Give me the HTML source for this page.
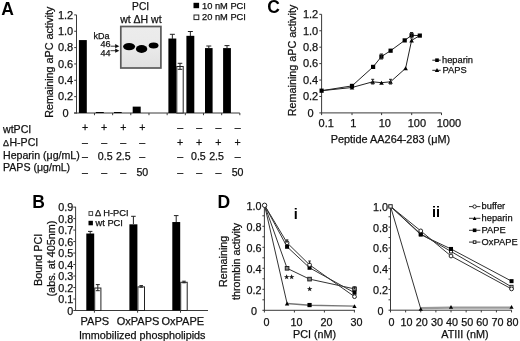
<!DOCTYPE html>
<html><head><meta charset="utf-8"><style>
html,body{margin:0;padding:0;background:#fff;}
svg{display:block;font-family:"Liberation Sans", sans-serif;filter:blur(0.5px);}
</style></head><body>
<svg width="520" height="341" viewBox="0 0 520 341">
<rect width="520" height="341" fill="#fff"/>
<text x="1.2" y="14.8" font-size="17.5" font-weight="bold" fill="#000">A</text>
<line x1="76.5" y1="14.9" x2="76.5" y2="113.5" stroke="#3a3a3a" stroke-width="1"/>
<line x1="74.2" y1="113.0" x2="76.5" y2="113.0" stroke="#3a3a3a" stroke-width="1"/>
<text x="65.6" y="116.8" font-size="11" text-anchor="middle" fill="#111" stroke="#111" stroke-width="0.25">0</text>
<line x1="74.2" y1="96.65" x2="76.5" y2="96.65" stroke="#3a3a3a" stroke-width="1"/>
<text x="65.6" y="100.45" font-size="11" text-anchor="middle" fill="#111" stroke="#111" stroke-width="0.25">0.2</text>
<line x1="74.2" y1="80.3" x2="76.5" y2="80.3" stroke="#3a3a3a" stroke-width="1"/>
<text x="65.6" y="84.1" font-size="11" text-anchor="middle" fill="#111" stroke="#111" stroke-width="0.25">0.4</text>
<line x1="74.2" y1="63.949999999999996" x2="76.5" y2="63.949999999999996" stroke="#3a3a3a" stroke-width="1"/>
<text x="65.6" y="67.75" font-size="11" text-anchor="middle" fill="#111" stroke="#111" stroke-width="0.25">0.6</text>
<line x1="74.2" y1="47.599999999999994" x2="76.5" y2="47.599999999999994" stroke="#3a3a3a" stroke-width="1"/>
<text x="65.6" y="51.39999999999999" font-size="11" text-anchor="middle" fill="#111" stroke="#111" stroke-width="0.25">0.8</text>
<line x1="74.2" y1="31.25" x2="76.5" y2="31.25" stroke="#3a3a3a" stroke-width="1"/>
<text x="65.6" y="35.05" font-size="11" text-anchor="middle" fill="#111" stroke="#111" stroke-width="0.25">1.0</text>
<line x1="74.2" y1="14.899999999999991" x2="76.5" y2="14.899999999999991" stroke="#3a3a3a" stroke-width="1"/>
<text x="65.6" y="18.699999999999992" font-size="11" text-anchor="middle" fill="#111" stroke="#111" stroke-width="0.25">1.2</text>
<line x1="74.0" y1="113.0" x2="239.8" y2="113.0" stroke="#3a3a3a" stroke-width="1"/>
<line x1="94.47" y1="113.0" x2="94.47" y2="115.2" stroke="#3a3a3a" stroke-width="1"/>
<line x1="112.64" y1="113.0" x2="112.64" y2="115.2" stroke="#3a3a3a" stroke-width="1"/>
<line x1="130.81" y1="113.0" x2="130.81" y2="115.2" stroke="#3a3a3a" stroke-width="1"/>
<line x1="148.98000000000002" y1="113.0" x2="148.98000000000002" y2="115.2" stroke="#3a3a3a" stroke-width="1"/>
<line x1="167.15" y1="113.0" x2="167.15" y2="115.2" stroke="#3a3a3a" stroke-width="1"/>
<line x1="185.32" y1="113.0" x2="185.32" y2="115.2" stroke="#3a3a3a" stroke-width="1"/>
<line x1="203.49" y1="113.0" x2="203.49" y2="115.2" stroke="#3a3a3a" stroke-width="1"/>
<line x1="221.66000000000003" y1="113.0" x2="221.66000000000003" y2="115.2" stroke="#3a3a3a" stroke-width="1"/>
<line x1="239.83000000000004" y1="113.0" x2="239.83000000000004" y2="115.2" stroke="#3a3a3a" stroke-width="1"/>
<text x="53.2" y="62.3" font-size="10.75" text-anchor="middle" transform="rotate(-90 53.2 62.3)" fill="#111" stroke="#111" stroke-width="0.25">Remaining aPC activity</text>
<rect x="78.9" y="40.07899999999999" width="7.8999999999999915" height="72.921" fill="#000"/>
<rect x="95.8" y="112.019" width="8.0" height="0.9809999999999945" fill="#000"/>
<rect x="114.0" y="112.019" width="7.700000000000003" height="0.9809999999999945" fill="#000"/>
<rect x="132.7" y="106.6235" width="8.0" height="6.376499999999993" fill="#000"/>
<rect x="168.4" y="38.52575" width="7.900000000000006" height="74.47425" fill="#000"/>
<rect x="176.8" y="66.49375" width="6.399999999999977" height="46.506249999999994" fill="#fff" stroke="#222" stroke-width="1"/>
<rect x="186.4" y="35.828" width="7.900000000000006" height="77.172" fill="#000"/>
<rect x="205.0" y="48.09049999999999" width="7.599999999999994" height="64.90950000000001" fill="#000"/>
<rect x="223.1" y="48.09049999999999" width="7.800000000000011" height="64.90950000000001" fill="#000"/>
<line x1="172.35" y1="34.3" x2="172.35" y2="39" stroke="#222" stroke-width="1"/>
<line x1="169.85" y1="34.3" x2="174.85" y2="34.3" stroke="#222" stroke-width="1"/>
<line x1="180.0" y1="63.3" x2="180.0" y2="69.3" stroke="#222" stroke-width="1"/>
<line x1="177.7" y1="63.3" x2="182.3" y2="63.3" stroke="#222" stroke-width="1"/>
<line x1="177.7" y1="69.3" x2="182.3" y2="69.3" stroke="#222" stroke-width="1"/>
<line x1="190.35" y1="31.5" x2="190.35" y2="36" stroke="#222" stroke-width="1"/>
<line x1="187.85" y1="31.5" x2="192.85" y2="31.5" stroke="#222" stroke-width="1"/>
<line x1="208.8" y1="46.0" x2="208.8" y2="48.5" stroke="#222" stroke-width="1"/>
<line x1="206.3" y1="46.0" x2="211.3" y2="46.0" stroke="#222" stroke-width="1"/>
<line x1="227.0" y1="45.6" x2="227.0" y2="48.5" stroke="#222" stroke-width="1"/>
<line x1="224.5" y1="45.6" x2="229.5" y2="45.6" stroke="#222" stroke-width="1"/>
<rect x="193.5" y="2.8" width="5.6" height="5.4" fill="#000"/>
<text x="202.0" y="8.8" font-size="9.3" fill="#111" stroke="#111" stroke-width="0.25">10 nM PCI</text>
<rect x="194.0" y="15.0" width="4.8" height="4.6" fill="#fff" stroke="#222" stroke-width="1"/>
<text x="202.0" y="20.4" font-size="9.3" fill="#111" stroke="#111" stroke-width="0.25">20 nM PCI</text>
<text x="140.6" y="9.9" font-size="10.2" text-anchor="middle" fill="#111" stroke="#111" stroke-width="0.25">PCI</text>
<text x="140.9" y="23.2" font-size="10.5" text-anchor="middle" fill="#111" stroke="#111" stroke-width="0.25">wt ΔH wt</text>
<defs><linearGradient id="gel" x1="0" y1="0" x2="0" y2="1"><stop offset="0" stop-color="#ececec"/><stop offset="0.5" stop-color="#eaeaea"/><stop offset="1" stop-color="#e0e0e0"/></linearGradient><filter id="bl" x="-30%" y="-50%" width="160%" height="200%"><feGaussianBlur stdDeviation="0.5"/></filter></defs>
<rect x="120.8" y="26.5" width="40.1" height="41.5" fill="url(#gel)" stroke="#5a5a5a" stroke-width="1.7"/>
<g filter="url(#bl)">
<ellipse cx="129.1" cy="46.6" rx="6.0" ry="3.6" fill="#000"/>
<ellipse cx="141.6" cy="49.0" rx="5.7" ry="3.9" fill="#000"/>
<ellipse cx="153.6" cy="45.5" rx="4.9" ry="3.0" fill="#000"/>
</g>
<text x="93.4" y="38.8" font-size="9.0" fill="#111" stroke="#111" stroke-width="0.25">kDa</text>
<text x="100.6" y="47.4" font-size="9.0" fill="#111" stroke="#111" stroke-width="0.25">46</text>
<text x="100.6" y="55.9" font-size="9.0" fill="#111" stroke="#111" stroke-width="0.25">44</text>
<line x1="110.5" y1="46.2" x2="116" y2="46.2" stroke="#222" stroke-width="0.9"/>
<path d="M115.2,44.1 L119.3,46.2 L115.2,48.3 Z" fill="#111" stroke="none" stroke-width="1"/>
<line x1="110.5" y1="50.7" x2="116" y2="50.7" stroke="#222" stroke-width="0.9"/>
<path d="M115.2,48.6 L119.3,50.7 L115.2,52.8 Z" fill="#111" stroke="none" stroke-width="1"/>
<text x="3.0" y="132.7" font-size="10.6" fill="#111" stroke="#111" stroke-width="0.25">wtPCI</text>
<text x="3.0" y="145.9" font-size="10.6" fill="#111" stroke="#111" stroke-width="0.25"><tspan font-size="9">Δ</tspan><tspan dx="0.4">H-PCI</tspan></text>
<text x="3.0" y="158.8" font-size="10.6" fill="#111" stroke="#111" stroke-width="0.25">Heparin (μg/mL)</text>
<text x="3.0" y="171.3" font-size="10.6" fill="#111" stroke="#111" stroke-width="0.25">PAPS (μg/mL)</text>
<text x="85.0" y="130.8" font-size="10.6" text-anchor="middle" fill="#111" stroke="#111" stroke-width="0.25">+</text>
<text x="104.2" y="130.8" font-size="10.6" text-anchor="middle" fill="#111" stroke="#111" stroke-width="0.25">+</text>
<text x="123.3" y="130.8" font-size="10.6" text-anchor="middle" fill="#111" stroke="#111" stroke-width="0.25">+</text>
<text x="142.3" y="130.8" font-size="10.6" text-anchor="middle" fill="#111" stroke="#111" stroke-width="0.25">+</text>
<text x="180.2" y="130.8" font-size="10.6" text-anchor="middle" fill="#111" stroke="#111" stroke-width="0.25">–</text>
<text x="199.2" y="130.8" font-size="10.6" text-anchor="middle" fill="#111" stroke="#111" stroke-width="0.25">–</text>
<text x="218.4" y="130.8" font-size="10.6" text-anchor="middle" fill="#111" stroke="#111" stroke-width="0.25">–</text>
<text x="237.6" y="130.8" font-size="10.6" text-anchor="middle" fill="#111" stroke="#111" stroke-width="0.25">–</text>
<text x="85.0" y="145.6" font-size="10.6" text-anchor="middle" fill="#111" stroke="#111" stroke-width="0.25">–</text>
<text x="104.2" y="145.6" font-size="10.6" text-anchor="middle" fill="#111" stroke="#111" stroke-width="0.25">–</text>
<text x="123.3" y="145.6" font-size="10.6" text-anchor="middle" fill="#111" stroke="#111" stroke-width="0.25">–</text>
<text x="142.3" y="145.6" font-size="10.6" text-anchor="middle" fill="#111" stroke="#111" stroke-width="0.25">–</text>
<text x="180.2" y="145.6" font-size="10.6" text-anchor="middle" fill="#111" stroke="#111" stroke-width="0.25">+</text>
<text x="199.2" y="145.6" font-size="10.6" text-anchor="middle" fill="#111" stroke="#111" stroke-width="0.25">+</text>
<text x="218.4" y="145.6" font-size="10.6" text-anchor="middle" fill="#111" stroke="#111" stroke-width="0.25">+</text>
<text x="237.6" y="145.6" font-size="10.6" text-anchor="middle" fill="#111" stroke="#111" stroke-width="0.25">+</text>
<text x="85.0" y="160.1" font-size="10.6" text-anchor="middle" fill="#111" stroke="#111" stroke-width="0.25">–</text>
<text x="105.2" y="160.1" font-size="10.6" text-anchor="middle" fill="#111" stroke="#111" stroke-width="0.25">0.5</text>
<text x="123.3" y="160.1" font-size="10.6" text-anchor="middle" fill="#111" stroke="#111" stroke-width="0.25">2.5</text>
<text x="142.3" y="160.1" font-size="10.6" text-anchor="middle" fill="#111" stroke="#111" stroke-width="0.25">–</text>
<text x="180.2" y="160.1" font-size="10.6" text-anchor="middle" fill="#111" stroke="#111" stroke-width="0.25">–</text>
<text x="198.39999999999998" y="160.1" font-size="10.6" text-anchor="middle" fill="#111" stroke="#111" stroke-width="0.25">0.5</text>
<text x="216.5" y="160.1" font-size="10.6" text-anchor="middle" fill="#111" stroke="#111" stroke-width="0.25">2.5</text>
<text x="237.6" y="160.1" font-size="10.6" text-anchor="middle" fill="#111" stroke="#111" stroke-width="0.25">–</text>
<text x="85.0" y="175.6" font-size="10.6" text-anchor="middle" fill="#111" stroke="#111" stroke-width="0.25">–</text>
<text x="104.2" y="175.6" font-size="10.6" text-anchor="middle" fill="#111" stroke="#111" stroke-width="0.25">–</text>
<text x="123.3" y="175.6" font-size="10.6" text-anchor="middle" fill="#111" stroke="#111" stroke-width="0.25">–</text>
<text x="142.3" y="175.6" font-size="10.6" text-anchor="middle" fill="#111" stroke="#111" stroke-width="0.25">50</text>
<text x="180.2" y="175.6" font-size="10.6" text-anchor="middle" fill="#111" stroke="#111" stroke-width="0.25">–</text>
<text x="199.2" y="175.6" font-size="10.6" text-anchor="middle" fill="#111" stroke="#111" stroke-width="0.25">–</text>
<text x="218.4" y="175.6" font-size="10.6" text-anchor="middle" fill="#111" stroke="#111" stroke-width="0.25">–</text>
<text x="237.6" y="175.6" font-size="10.6" text-anchor="middle" fill="#111" stroke="#111" stroke-width="0.25">50</text>
<text x="267.3" y="13.2" font-size="17.5" font-weight="bold" fill="#000">C</text>
<line x1="321.6" y1="14.3" x2="321.6" y2="113.4" stroke="#3a3a3a" stroke-width="1"/>
<line x1="319.3" y1="112.9" x2="321.6" y2="112.9" stroke="#3a3a3a" stroke-width="1"/>
<text x="310.6" y="116.7" font-size="11" text-anchor="middle" fill="#111" stroke="#111" stroke-width="0.25">0</text>
<line x1="319.3" y1="96.47" x2="321.6" y2="96.47" stroke="#3a3a3a" stroke-width="1"/>
<text x="310.6" y="100.27" font-size="11" text-anchor="middle" fill="#111" stroke="#111" stroke-width="0.25">0.2</text>
<line x1="319.3" y1="80.03999999999999" x2="321.6" y2="80.03999999999999" stroke="#3a3a3a" stroke-width="1"/>
<text x="310.6" y="83.83999999999999" font-size="11" text-anchor="middle" fill="#111" stroke="#111" stroke-width="0.25">0.4</text>
<line x1="319.3" y1="63.60999999999999" x2="321.6" y2="63.60999999999999" stroke="#3a3a3a" stroke-width="1"/>
<text x="310.6" y="67.41" font-size="11" text-anchor="middle" fill="#111" stroke="#111" stroke-width="0.25">0.6</text>
<line x1="319.3" y1="47.17999999999999" x2="321.6" y2="47.17999999999999" stroke="#3a3a3a" stroke-width="1"/>
<text x="310.6" y="50.97999999999999" font-size="11" text-anchor="middle" fill="#111" stroke="#111" stroke-width="0.25">0.8</text>
<line x1="319.3" y1="30.75" x2="321.6" y2="30.75" stroke="#3a3a3a" stroke-width="1"/>
<text x="310.6" y="34.55" font-size="11" text-anchor="middle" fill="#111" stroke="#111" stroke-width="0.25">1.0</text>
<line x1="319.3" y1="14.319999999999979" x2="321.6" y2="14.319999999999979" stroke="#3a3a3a" stroke-width="1"/>
<text x="310.6" y="18.11999999999998" font-size="11" text-anchor="middle" fill="#111" stroke="#111" stroke-width="0.25">1.2</text>
<line x1="321.6" y1="112.9" x2="441.6" y2="112.9" stroke="#3a3a3a" stroke-width="1"/>
<line x1="321.6" y1="112.9" x2="321.6" y2="115.10000000000001" stroke="#3a3a3a" stroke-width="1"/>
<line x1="352.0" y1="112.9" x2="352.0" y2="115.10000000000001" stroke="#3a3a3a" stroke-width="1"/>
<line x1="381.6" y1="112.9" x2="381.6" y2="115.10000000000001" stroke="#3a3a3a" stroke-width="1"/>
<line x1="411.7" y1="112.9" x2="411.7" y2="115.10000000000001" stroke="#3a3a3a" stroke-width="1"/>
<line x1="441.5" y1="112.9" x2="441.5" y2="115.10000000000001" stroke="#3a3a3a" stroke-width="1"/>
<text x="318.6" y="127.1" font-size="11" fill="#111" stroke="#111" stroke-width="0.25">0.1</text>
<text x="350.2" y="127.1" font-size="11" fill="#111" stroke="#111" stroke-width="0.25">1</text>
<text x="378.7" y="127.1" font-size="11" fill="#111" stroke="#111" stroke-width="0.25">10</text>
<text x="407.7" y="127.1" font-size="11" fill="#111" stroke="#111" stroke-width="0.25">100</text>
<text x="436.7" y="127.1" font-size="11" fill="#111" stroke="#111" stroke-width="0.25">1000</text>
<text x="330.7" y="142.5" font-size="10.9" fill="#111" stroke="#111" stroke-width="0.25">Peptide AA264-283 (μM)</text>
<text x="295.8" y="60.5" font-size="10.8" text-anchor="middle" transform="rotate(-90 295.8 60.5)" fill="#111" stroke="#111" stroke-width="0.25">Remaining aPC activity</text>
<path d="M321.6,90.7 L352.0,85.9 L373.1,66.9 L381.4,56.6 L390.6,50.7 L404.7,40.4 L411.6,35.3 L419.8,35.6" fill="none" stroke="#222" stroke-width="1"/>
<path d="M321.6,90.7 L352.0,87.5 L372.7,81.8 L381.5,82.7 L390.5,81.8 L405.6,68.3 L411.6,40.4 L419.8,35.6" fill="none" stroke="#222" stroke-width="1"/>
<rect x="319.5" y="88.60000000000001" width="4.2" height="4.2" fill="#000"/>
<rect x="349.9" y="83.80000000000001" width="4.2" height="4.2" fill="#000"/>
<rect x="371.0" y="64.80000000000001" width="4.2" height="4.2" fill="#000"/>
<rect x="379.29999999999995" y="54.5" width="4.2" height="4.2" fill="#000"/>
<rect x="388.5" y="48.6" width="4.2" height="4.2" fill="#000"/>
<rect x="402.59999999999997" y="38.3" width="4.2" height="4.2" fill="#000"/>
<rect x="409.5" y="33.199999999999996" width="4.2" height="4.2" fill="#000"/>
<rect x="417.7" y="33.5" width="4.2" height="4.2" fill="#000"/>
<path d="M349.7,89.57 L354.3,89.57 L352.0,85.43 Z" fill="#000" stroke="none" stroke-width="1"/>
<path d="M370.4,83.86999999999999 L375.0,83.86999999999999 L372.7,79.73 Z" fill="#000" stroke="none" stroke-width="1"/>
<path d="M379.2,84.77 L383.8,84.77 L381.5,80.63000000000001 Z" fill="#000" stroke="none" stroke-width="1"/>
<path d="M388.2,83.86999999999999 L392.8,83.86999999999999 L390.5,79.73 Z" fill="#000" stroke="none" stroke-width="1"/>
<path d="M403.3,70.36999999999999 L407.90000000000003,70.36999999999999 L405.6,66.23 Z" fill="#000" stroke="none" stroke-width="1"/>
<path d="M409.3,42.47 L413.90000000000003,42.47 L411.6,38.33 Z" fill="#000" stroke="none" stroke-width="1"/>
<line x1="381.4" y1="54.0" x2="381.4" y2="59.0" stroke="#222" stroke-width="1"/>
<line x1="379.79999999999995" y1="54.0" x2="383.0" y2="54.0" stroke="#222" stroke-width="1"/>
<line x1="379.79999999999995" y1="59.0" x2="383.0" y2="59.0" stroke="#222" stroke-width="1"/>
<line x1="411.6" y1="32.5" x2="411.6" y2="38" stroke="#222" stroke-width="1"/>
<line x1="410.0" y1="32.5" x2="413.20000000000005" y2="32.5" stroke="#222" stroke-width="1"/>
<line x1="410.0" y1="38" x2="413.20000000000005" y2="38" stroke="#222" stroke-width="1"/>
<line x1="372.7" y1="79.3" x2="372.7" y2="84" stroke="#222" stroke-width="1"/>
<line x1="371.2" y1="79.3" x2="374.2" y2="79.3" stroke="#222" stroke-width="1"/>
<line x1="371.2" y1="84" x2="374.2" y2="84" stroke="#222" stroke-width="1"/>
<line x1="390.5" y1="79.3" x2="390.5" y2="84" stroke="#222" stroke-width="1"/>
<line x1="389.0" y1="79.3" x2="392.0" y2="79.3" stroke="#222" stroke-width="1"/>
<line x1="389.0" y1="84" x2="392.0" y2="84" stroke="#222" stroke-width="1"/>
<line x1="432.3" y1="60.2" x2="440.7" y2="60.2" stroke="#222" stroke-width="1"/>
<rect x="435.2" y="58.400000000000006" width="3.6" height="3.6" fill="#000"/>
<text x="442.0" y="62.9" font-size="9.3" fill="#111" stroke="#111" stroke-width="0.25">heparin</text>
<line x1="432.3" y1="70.3" x2="440.7" y2="70.3" stroke="#222" stroke-width="1"/>
<path d="M434.8,71.98 L439.2,71.98 L437.0,68.02 Z" fill="#000" stroke="none" stroke-width="1"/>
<text x="442.6" y="73.4" font-size="9.3" fill="#111" stroke="#111" stroke-width="0.25">PAPS</text>
<text x="32.3" y="207.6" font-size="17.5" font-weight="bold" fill="#000">B</text>
<line x1="75.6" y1="206.8" x2="75.6" y2="311.0" stroke="#3a3a3a" stroke-width="1"/>
<line x1="73.3" y1="310.5" x2="75.6" y2="310.5" stroke="#3a3a3a" stroke-width="1"/>
<text x="73.3" y="314.8" font-size="10.8" text-anchor="end" fill="#111" stroke="#111" stroke-width="0.25">0</text>
<line x1="73.3" y1="299.01" x2="75.6" y2="299.01" stroke="#3a3a3a" stroke-width="1"/>
<text x="73.3" y="303.31" font-size="10.8" text-anchor="end" fill="#111" stroke="#111" stroke-width="0.25">0.1</text>
<line x1="73.3" y1="287.52" x2="75.6" y2="287.52" stroke="#3a3a3a" stroke-width="1"/>
<text x="73.3" y="291.82" font-size="10.8" text-anchor="end" fill="#111" stroke="#111" stroke-width="0.25">0.2</text>
<line x1="73.3" y1="276.03" x2="75.6" y2="276.03" stroke="#3a3a3a" stroke-width="1"/>
<text x="73.3" y="280.33" font-size="10.8" text-anchor="end" fill="#111" stroke="#111" stroke-width="0.25">0.3</text>
<line x1="73.3" y1="264.53999999999996" x2="75.6" y2="264.53999999999996" stroke="#3a3a3a" stroke-width="1"/>
<text x="73.3" y="268.84" font-size="10.8" text-anchor="end" fill="#111" stroke="#111" stroke-width="0.25">0.4</text>
<line x1="73.3" y1="253.05" x2="75.6" y2="253.05" stroke="#3a3a3a" stroke-width="1"/>
<text x="73.3" y="257.35" font-size="10.8" text-anchor="end" fill="#111" stroke="#111" stroke-width="0.25">0.5</text>
<line x1="73.3" y1="241.56" x2="75.6" y2="241.56" stroke="#3a3a3a" stroke-width="1"/>
<text x="73.3" y="245.86" font-size="10.8" text-anchor="end" fill="#111" stroke="#111" stroke-width="0.25">0.6</text>
<line x1="73.3" y1="230.07" x2="75.6" y2="230.07" stroke="#3a3a3a" stroke-width="1"/>
<text x="73.3" y="234.37" font-size="10.8" text-anchor="end" fill="#111" stroke="#111" stroke-width="0.25">0.7</text>
<line x1="73.3" y1="218.57999999999998" x2="75.6" y2="218.57999999999998" stroke="#3a3a3a" stroke-width="1"/>
<text x="73.3" y="222.88" font-size="10.8" text-anchor="end" fill="#111" stroke="#111" stroke-width="0.25">0.8</text>
<line x1="73.3" y1="207.08999999999997" x2="75.6" y2="207.08999999999997" stroke="#3a3a3a" stroke-width="1"/>
<text x="73.3" y="211.39" font-size="10.8" text-anchor="end" fill="#111" stroke="#111" stroke-width="0.25">0.9</text>
<line x1="75.6" y1="310.5" x2="208.0" y2="310.5" stroke="#3a3a3a" stroke-width="1"/>
<line x1="94.4" y1="310.5" x2="94.4" y2="312.7" stroke="#3a3a3a" stroke-width="1"/>
<line x1="137.6" y1="310.5" x2="137.6" y2="312.7" stroke="#3a3a3a" stroke-width="1"/>
<line x1="180.5" y1="310.5" x2="180.5" y2="312.7" stroke="#3a3a3a" stroke-width="1"/>
<rect x="86.3" y="233.517" width="7.900000000000006" height="76.983" fill="#000"/>
<rect x="94.7" y="288.02" width="6.200000000000003" height="22.480000000000018" fill="#fff" stroke="#222" stroke-width="1"/>
<rect x="129.4" y="224.325" width="8.0" height="86.17500000000001" fill="#000"/>
<rect x="137.9" y="286.871" width="6.599999999999994" height="23.62900000000002" fill="#fff" stroke="#222" stroke-width="1"/>
<rect x="172.3" y="222.027" width="7.899999999999977" height="88.47300000000001" fill="#000"/>
<rect x="180.7" y="282.275" width="6.5" height="28.225000000000023" fill="#fff" stroke="#222" stroke-width="1"/>
<line x1="90.2" y1="231.4" x2="90.2" y2="234" stroke="#222" stroke-width="1"/>
<line x1="88.0" y1="231.4" x2="92.4" y2="231.4" stroke="#222" stroke-width="1"/>
<line x1="97.8" y1="284.6" x2="97.8" y2="290.7" stroke="#222" stroke-width="1"/>
<line x1="95.8" y1="284.6" x2="99.8" y2="284.6" stroke="#222" stroke-width="1"/>
<line x1="95.8" y1="290.7" x2="99.8" y2="290.7" stroke="#222" stroke-width="1"/>
<line x1="133.4" y1="216.3" x2="133.4" y2="224" stroke="#222" stroke-width="1"/>
<line x1="131.1" y1="216.3" x2="135.70000000000002" y2="216.3" stroke="#222" stroke-width="1"/>
<line x1="176.2" y1="215.6" x2="176.2" y2="222" stroke="#222" stroke-width="1"/>
<line x1="173.89999999999998" y1="215.6" x2="178.5" y2="215.6" stroke="#222" stroke-width="1"/>
<line x1="141.2" y1="285.6" x2="141.2" y2="287.2" stroke="#222" stroke-width="1"/>
<line x1="139.39999999999998" y1="285.6" x2="143.0" y2="285.6" stroke="#222" stroke-width="1"/>
<line x1="139.39999999999998" y1="287.2" x2="143.0" y2="287.2" stroke="#222" stroke-width="1"/>
<line x1="184.0" y1="281.2" x2="184.0" y2="282.8" stroke="#222" stroke-width="1"/>
<line x1="182.2" y1="281.2" x2="185.8" y2="281.2" stroke="#222" stroke-width="1"/>
<line x1="182.2" y1="282.8" x2="185.8" y2="282.8" stroke="#222" stroke-width="1"/>
<text x="41.6" y="259.8" font-size="10.8" text-anchor="middle" transform="rotate(-90 41.6 259.8)" fill="#111" stroke="#111" stroke-width="0.25">Bound PCI</text>
<text x="54.6" y="258.5" font-size="10.85" text-anchor="middle" transform="rotate(-90 54.6 258.5)" fill="#111" stroke="#111" stroke-width="0.25">(abs. at 405nm)</text>
<text x="94.8" y="324.7" font-size="11" text-anchor="middle" fill="#111" stroke="#111" stroke-width="0.25">PAPS</text>
<text x="138.1" y="324.7" font-size="11" text-anchor="middle" fill="#111" stroke="#111" stroke-width="0.25">OxPAPS</text>
<text x="182.8" y="324.7" font-size="11" text-anchor="middle" fill="#111" stroke="#111" stroke-width="0.25">OxPAPE</text>
<text x="142.2" y="338.8" font-size="10.8" text-anchor="middle" fill="#111" stroke="#111" stroke-width="0.25">Immobilized phospholipids</text>
<rect x="89.0" y="211.6" width="3.6" height="3.8" fill="#fff" stroke="#444" stroke-width="1"/>
<text x="95.0" y="216.4" font-size="9.3" fill="#111" stroke="#111" stroke-width="0.25">Δ H-PCI</text>
<rect x="88.5" y="220.8" width="4.4" height="4.5" fill="#000"/>
<text x="95.5" y="226.0" font-size="9.3" fill="#111" stroke="#111" stroke-width="0.25">wt PCI</text>
<text x="217.4" y="207.8" font-size="17.5" font-weight="bold" fill="#000">D</text>
<line x1="264.4" y1="205.3" x2="264.4" y2="310.8" stroke="#3a3a3a" stroke-width="1"/>
<line x1="262.4" y1="310.3" x2="264.4" y2="310.3" stroke="#3a3a3a" stroke-width="1"/>
<line x1="262.4" y1="299.8" x2="264.4" y2="299.8" stroke="#3a3a3a" stroke-width="1"/>
<line x1="262.4" y1="289.3" x2="264.4" y2="289.3" stroke="#3a3a3a" stroke-width="1"/>
<line x1="262.4" y1="278.8" x2="264.4" y2="278.8" stroke="#3a3a3a" stroke-width="1"/>
<line x1="262.4" y1="268.3" x2="264.4" y2="268.3" stroke="#3a3a3a" stroke-width="1"/>
<line x1="262.4" y1="257.8" x2="264.4" y2="257.8" stroke="#3a3a3a" stroke-width="1"/>
<line x1="262.4" y1="247.3" x2="264.4" y2="247.3" stroke="#3a3a3a" stroke-width="1"/>
<line x1="262.4" y1="236.8" x2="264.4" y2="236.8" stroke="#3a3a3a" stroke-width="1"/>
<line x1="262.4" y1="226.3" x2="264.4" y2="226.3" stroke="#3a3a3a" stroke-width="1"/>
<line x1="262.4" y1="215.8" x2="264.4" y2="215.8" stroke="#3a3a3a" stroke-width="1"/>
<line x1="262.4" y1="205.3" x2="264.4" y2="205.3" stroke="#3a3a3a" stroke-width="1"/>
<text x="253.9" y="314.7" font-size="10.8" text-anchor="middle" fill="#111" stroke="#111" stroke-width="0.25">0</text>
<text x="253.9" y="293.7" font-size="10.8" text-anchor="middle" fill="#111" stroke="#111" stroke-width="0.25">0.2</text>
<text x="253.9" y="272.7" font-size="10.8" text-anchor="middle" fill="#111" stroke="#111" stroke-width="0.25">0.4</text>
<text x="253.9" y="251.70000000000002" font-size="10.8" text-anchor="middle" fill="#111" stroke="#111" stroke-width="0.25">0.6</text>
<text x="253.9" y="230.70000000000002" font-size="10.8" text-anchor="middle" fill="#111" stroke="#111" stroke-width="0.25">0.8</text>
<text x="253.9" y="209.70000000000002" font-size="10.8" text-anchor="middle" fill="#111" stroke="#111" stroke-width="0.25">1.0</text>
<line x1="390.5" y1="206.4" x2="390.5" y2="310.7" stroke="#3a3a3a" stroke-width="1"/>
<line x1="388.5" y1="310.2" x2="390.5" y2="310.2" stroke="#3a3a3a" stroke-width="1"/>
<line x1="388.5" y1="299.82" x2="390.5" y2="299.82" stroke="#3a3a3a" stroke-width="1"/>
<line x1="388.5" y1="289.44" x2="390.5" y2="289.44" stroke="#3a3a3a" stroke-width="1"/>
<line x1="388.5" y1="279.06" x2="390.5" y2="279.06" stroke="#3a3a3a" stroke-width="1"/>
<line x1="388.5" y1="268.68" x2="390.5" y2="268.68" stroke="#3a3a3a" stroke-width="1"/>
<line x1="388.5" y1="258.3" x2="390.5" y2="258.3" stroke="#3a3a3a" stroke-width="1"/>
<line x1="388.5" y1="247.92" x2="390.5" y2="247.92" stroke="#3a3a3a" stroke-width="1"/>
<line x1="388.5" y1="237.53999999999996" x2="390.5" y2="237.53999999999996" stroke="#3a3a3a" stroke-width="1"/>
<line x1="388.5" y1="227.15999999999997" x2="390.5" y2="227.15999999999997" stroke="#3a3a3a" stroke-width="1"/>
<line x1="388.5" y1="216.77999999999997" x2="390.5" y2="216.77999999999997" stroke="#3a3a3a" stroke-width="1"/>
<line x1="388.5" y1="206.39999999999998" x2="390.5" y2="206.39999999999998" stroke="#3a3a3a" stroke-width="1"/>
<text x="380.5" y="314.59999999999997" font-size="10.8" text-anchor="middle" fill="#111" stroke="#111" stroke-width="0.25">0</text>
<text x="380.5" y="293.84" font-size="10.8" text-anchor="middle" fill="#111" stroke="#111" stroke-width="0.25">0.2</text>
<text x="380.5" y="273.08" font-size="10.8" text-anchor="middle" fill="#111" stroke="#111" stroke-width="0.25">0.4</text>
<text x="380.5" y="252.32" font-size="10.8" text-anchor="middle" fill="#111" stroke="#111" stroke-width="0.25">0.6</text>
<text x="380.5" y="231.55999999999997" font-size="10.8" text-anchor="middle" fill="#111" stroke="#111" stroke-width="0.25">0.8</text>
<text x="380.5" y="210.79999999999998" font-size="10.8" text-anchor="middle" fill="#111" stroke="#111" stroke-width="0.25">1.0</text>
<line x1="263.8" y1="310.3" x2="355.0" y2="310.3" stroke="#3a3a3a" stroke-width="1"/>
<line x1="264.4" y1="310.3" x2="264.4" y2="312.5" stroke="#3a3a3a" stroke-width="1"/>
<text x="266.59999999999997" y="325.7" font-size="10.8" text-anchor="middle" fill="#111" stroke="#111" stroke-width="0.25">0</text>
<line x1="294.4" y1="310.3" x2="294.4" y2="312.5" stroke="#3a3a3a" stroke-width="1"/>
<text x="296.59999999999997" y="325.7" font-size="10.8" text-anchor="middle" fill="#111" stroke="#111" stroke-width="0.25">10</text>
<line x1="324.4" y1="310.3" x2="324.4" y2="312.5" stroke="#3a3a3a" stroke-width="1"/>
<text x="326.59999999999997" y="325.7" font-size="10.8" text-anchor="middle" fill="#111" stroke="#111" stroke-width="0.25">20</text>
<line x1="354.4" y1="310.3" x2="354.4" y2="312.5" stroke="#3a3a3a" stroke-width="1"/>
<text x="356.59999999999997" y="325.7" font-size="10.8" text-anchor="middle" fill="#111" stroke="#111" stroke-width="0.25">30</text>
<text x="293.0" y="337.6" font-size="10.8" fill="#111" stroke="#111" stroke-width="0.25">PCI (nM)</text>
<line x1="389.9" y1="310.2" x2="511.8" y2="310.2" stroke="#3a3a3a" stroke-width="1"/>
<line x1="390.5" y1="310.2" x2="390.5" y2="312.4" stroke="#3a3a3a" stroke-width="1"/>
<text x="391.5" y="325.6" font-size="10.8" text-anchor="middle" fill="#111" stroke="#111" stroke-width="0.25">0</text>
<line x1="405.63" y1="310.2" x2="405.63" y2="312.4" stroke="#3a3a3a" stroke-width="1"/>
<text x="406.63" y="325.6" font-size="10.8" text-anchor="middle" fill="#111" stroke="#111" stroke-width="0.25">10</text>
<line x1="420.76" y1="310.2" x2="420.76" y2="312.4" stroke="#3a3a3a" stroke-width="1"/>
<text x="421.76" y="325.6" font-size="10.8" text-anchor="middle" fill="#111" stroke="#111" stroke-width="0.25">20</text>
<line x1="435.89" y1="310.2" x2="435.89" y2="312.4" stroke="#3a3a3a" stroke-width="1"/>
<text x="436.89" y="325.6" font-size="10.8" text-anchor="middle" fill="#111" stroke="#111" stroke-width="0.25">30</text>
<line x1="451.02" y1="310.2" x2="451.02" y2="312.4" stroke="#3a3a3a" stroke-width="1"/>
<text x="452.02" y="325.6" font-size="10.8" text-anchor="middle" fill="#111" stroke="#111" stroke-width="0.25">40</text>
<line x1="466.15" y1="310.2" x2="466.15" y2="312.4" stroke="#3a3a3a" stroke-width="1"/>
<text x="467.15" y="325.6" font-size="10.8" text-anchor="middle" fill="#111" stroke="#111" stroke-width="0.25">50</text>
<line x1="481.28" y1="310.2" x2="481.28" y2="312.4" stroke="#3a3a3a" stroke-width="1"/>
<text x="482.28" y="325.6" font-size="10.8" text-anchor="middle" fill="#111" stroke="#111" stroke-width="0.25">60</text>
<line x1="496.40999999999997" y1="310.2" x2="496.40999999999997" y2="312.4" stroke="#3a3a3a" stroke-width="1"/>
<text x="497.40999999999997" y="325.6" font-size="10.8" text-anchor="middle" fill="#111" stroke="#111" stroke-width="0.25">70</text>
<line x1="511.53999999999996" y1="310.2" x2="511.53999999999996" y2="312.4" stroke="#3a3a3a" stroke-width="1"/>
<text x="512.54" y="325.6" font-size="10.8" text-anchor="middle" fill="#111" stroke="#111" stroke-width="0.25">80</text>
<text x="441.3" y="337.7" font-size="10.8" fill="#111" stroke="#111" stroke-width="0.25">ATIII (nM)</text>
<text x="226.8" y="261.4" font-size="10.7" text-anchor="middle" transform="rotate(-90 226.8 261.4)" fill="#111" stroke="#111" stroke-width="0.25">Remaining</text>
<text x="239.9" y="261.4" font-size="10.7" text-anchor="middle" transform="rotate(-90 239.9 261.4)" fill="#111" stroke="#111" stroke-width="0.25">thrombin activity</text>
<text x="293.8" y="218.9" font-size="14.5" font-weight="bold" fill="#000">i</text>
<text x="432.0" y="216.7" font-size="14.5" font-weight="bold" fill="#000">ii</text>
<path d="M264.60,205.30 L287.08,242.79 L309.56,264.84 L354.51,296.65" fill="none" stroke="#333" stroke-width="1"/>
<path d="M264.60,205.30 L287.08,246.78 L309.56,267.77 L354.51,292.76" fill="none" stroke="#333" stroke-width="1"/>
<path d="M264.60,205.30 L287.08,268.30 L309.56,279.12 L354.51,288.88" fill="none" stroke="#333" stroke-width="1"/>
<path d="M264.60,205.30 L287.08,303.48" fill="none" stroke="#333" stroke-width="1"/>
<path d="M287.08,303.48 L309.56,305.26 L354.51,306.10" fill="none" stroke="#777" stroke-width="1.3"/>
<rect x="285.27750000000003" y="266.5" width="3.5999999999999996" height="3.5999999999999996" fill="#888" stroke="#222" stroke-width="1"/>
<rect x="307.755" y="277.315" width="3.5999999999999996" height="3.5999999999999996" fill="#888" stroke="#222" stroke-width="1"/>
<rect x="352.71" y="287.08" width="3.5999999999999996" height="3.5999999999999996" fill="#888" stroke="#222" stroke-width="1"/>
<rect x="285.07750000000004" y="244.775" width="4.0" height="4.0" fill="#000"/>
<rect x="307.555" y="265.775" width="4.0" height="4.0" fill="#000"/>
<rect x="352.51" y="290.765" width="4.0" height="4.0" fill="#000"/>
<circle cx="287.07750000000004" cy="242.78500000000003" r="1.9" fill="#fff" stroke="#222" stroke-width="1"/>
<circle cx="309.555" cy="264.83500000000004" r="1.9" fill="#fff" stroke="#222" stroke-width="1"/>
<circle cx="354.51" cy="296.65000000000003" r="1.9" fill="#fff" stroke="#222" stroke-width="1"/>
<path d="M284.87750000000005,305.45500000000004 L289.27750000000003,305.45500000000004 L287.07750000000004,301.495 Z" fill="#000" stroke="none" stroke-width="1"/>
<rect x="307.455" y="302.95" width="4.2" height="4.2" fill="#000"/>
<path d="M352.40999999999997,307.99 L356.61,307.99 L354.51,304.21000000000004 Z" fill="#000" stroke="none" stroke-width="1"/>
<circle cx="264.6" cy="205.3" r="2.2" fill="#fff" stroke="#222" stroke-width="1"/>
<line x1="287.07750000000004" y1="239.9" x2="287.07750000000004" y2="242.0" stroke="#222" stroke-width="1"/>
<line x1="285.77750000000003" y1="239.9" x2="288.37750000000005" y2="239.9" stroke="#222" stroke-width="1"/>
<line x1="285.77750000000003" y1="242.0" x2="288.37750000000005" y2="242.0" stroke="#222" stroke-width="1"/>
<line x1="309.555" y1="261.0" x2="309.555" y2="264" stroke="#222" stroke-width="1"/>
<line x1="308.255" y1="261.0" x2="310.855" y2="261.0" stroke="#222" stroke-width="1"/>
<line x1="354.51" y1="286.8" x2="354.51" y2="289" stroke="#222" stroke-width="1"/>
<line x1="353.21" y1="286.8" x2="355.81" y2="286.8" stroke="#222" stroke-width="1"/>
<text x="284.3" y="279.3" font-size="5.9" fill="#111" stroke="#111" stroke-width="0.25" letter-spacing="-0.4">★★</text>
<text x="306.8" y="290.6" font-size="5.9" fill="#111" stroke="#111" stroke-width="0.25">★</text>
<path d="M390.50,206.40 L420.76,230.90 L451.02,256.02 L511.54,288.92" fill="none" stroke="#333" stroke-width="1"/>
<path d="M390.50,206.40 L420.76,234.63 L451.02,248.96 L511.54,281.14" fill="none" stroke="#333" stroke-width="1"/>
<path d="M390.50,206.40 L420.76,233.91 L451.02,251.45 L511.54,286.84" fill="none" stroke="#333" stroke-width="1"/>
<path d="M390.50,206.40 L420.76,308.85" fill="none" stroke="#333" stroke-width="1"/>
<path d="M420.76,308.12399999999997 L451.02,307.7088 L511.53999999999996,307.7088" fill="none" stroke="#999" stroke-width="2.2"/>
<rect x="419.26" y="232.40699999999998" width="3.0" height="3.0" fill="#fff" stroke="#222" stroke-width="1"/>
<rect x="449.52" y="249.9492" width="3.0" height="3.0" fill="#fff" stroke="#222" stroke-width="1"/>
<rect x="510.03999999999996" y="285.34499999999997" width="3.0" height="3.0" fill="#fff" stroke="#222" stroke-width="1"/>
<rect x="418.76" y="232.6336" width="4.0" height="4.0" fill="#000"/>
<rect x="449.02" y="246.958" width="4.0" height="4.0" fill="#000"/>
<rect x="509.53999999999996" y="279.13599999999997" width="4.0" height="4.0" fill="#000"/>
<circle cx="420.76" cy="230.89679999999998" r="1.9" fill="#fff" stroke="#222" stroke-width="1"/>
<circle cx="451.02" cy="256.0164" r="1.9" fill="#fff" stroke="#222" stroke-width="1"/>
<circle cx="511.53999999999996" cy="288.921" r="1.9" fill="#fff" stroke="#222" stroke-width="1"/>
<path d="M418.65999999999997,310.7406 L422.86,310.7406 L420.76,306.9606 Z" fill="#000" stroke="none" stroke-width="1"/>
<path d="M448.91999999999996,308.7684 L453.12,308.7684 L451.02,304.9884 Z" fill="#000" stroke="none" stroke-width="1"/>
<path d="M509.43999999999994,308.7684 L513.64,308.7684 L511.53999999999996,304.9884 Z" fill="#000" stroke="none" stroke-width="1"/>
<rect x="388.8" y="204.7" width="3.4000000000000004" height="3.4000000000000004" fill="#fff" stroke="#222" stroke-width="1"/>
<line x1="469.0" y1="206.6" x2="480.4" y2="206.6" stroke="#333" stroke-width="1"/>
<text x="481.6" y="209.1" font-size="9.3" fill="#111" stroke="#111" stroke-width="0.25">buffer</text>
<line x1="469.0" y1="218.3" x2="480.4" y2="218.3" stroke="#333" stroke-width="1"/>
<text x="481.6" y="220.8" font-size="9.3" fill="#111" stroke="#111" stroke-width="0.25">heparin</text>
<line x1="469.0" y1="230.3" x2="480.4" y2="230.3" stroke="#333" stroke-width="1"/>
<text x="481.6" y="232.8" font-size="9.3" fill="#111" stroke="#111" stroke-width="0.25">PAPE</text>
<line x1="469.0" y1="242.1" x2="480.4" y2="242.1" stroke="#333" stroke-width="1"/>
<text x="481.6" y="244.6" font-size="9.3" fill="#111" stroke="#111" stroke-width="0.25">OxPAPE</text>
<circle cx="474.6" cy="206.6" r="1.7" fill="#fff" stroke="#222" stroke-width="1"/>
<path d="M472.70000000000005,220.01000000000002 L476.5,220.01000000000002 L474.6,216.59 Z" fill="#000" stroke="none" stroke-width="1"/>
<rect x="472.8" y="228.5" width="3.6" height="3.6" fill="#000"/>
<rect x="473.3" y="240.79999999999998" width="2.6" height="2.6" fill="#fff" stroke="#222" stroke-width="1"/>
</svg>
</body></html>
